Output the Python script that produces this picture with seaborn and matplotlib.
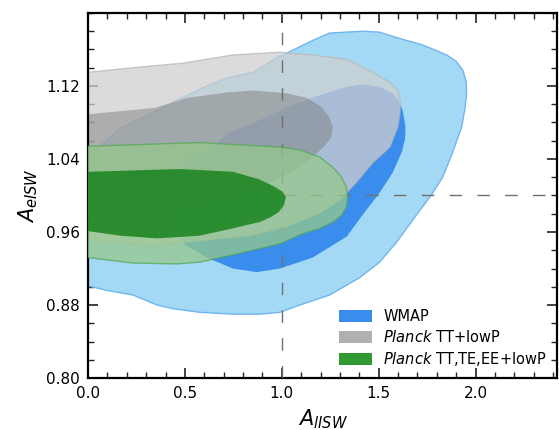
import numpy as np
import matplotlib
matplotlib.use("Agg")
import matplotlib.pyplot as plt
import seaborn as sns
from matplotlib.patches import Patch
from matplotlib.ticker import MultipleLocator

# contour outlines (A_lISW, A_eISW)
wmap_95_x = [0.0, 0.052, 0.170, 0.345, 0.464, 0.603, 0.722, 0.851, 0.974, 1.026, 1.160, 1.247,
             1.418, 1.505, 1.593, 1.727, 1.851, 1.900, 1.935, 1.952, 1.953, 1.945, 1.928, 1.881,
             1.830, 1.773, 1.696, 1.593, 1.505, 1.402, 1.247, 1.093, 0.990, 0.887, 0.747, 0.577,
             0.438, 0.356, 0.232, 0.098, 0.0]
wmap_95_y = [1.048, 1.053, 1.074, 1.092, 1.105, 1.119, 1.129, 1.135, 1.151, 1.156, 1.170, 1.178,
             1.180, 1.179, 1.173, 1.165, 1.154, 1.147, 1.137, 1.124, 1.110, 1.095, 1.075, 1.047,
             1.020, 1.001, 0.979, 0.949, 0.927, 0.910, 0.891, 0.880, 0.872, 0.870, 0.870, 0.872,
             0.876, 0.880, 0.891, 0.896, 0.901]

wmap_68_x = [0.634, 0.722, 0.851, 1.026, 1.196, 1.335, 1.418, 1.505, 1.570, 1.605, 1.625, 1.638,
             1.636, 1.620, 1.572, 1.505, 1.418, 1.335, 1.160, 0.990, 0.871, 0.747, 0.613, 0.500,
             0.438, 0.423, 0.448, 0.530]
wmap_68_y = [1.050, 1.069, 1.079, 1.097, 1.110, 1.119, 1.122, 1.119, 1.112, 1.104, 1.092, 1.075,
             1.062, 1.048, 1.025, 1.003, 0.979, 0.955, 0.932, 0.920, 0.916, 0.920, 0.932, 0.946,
             0.968, 0.995, 1.022, 1.045]

tt_95_x = [0.0, 0.232, 0.490, 0.747, 0.990, 1.160, 1.335, 1.469, 1.557, 1.598, 1.613, 1.608,
           1.598, 1.557, 1.469, 1.387, 1.299, 1.196, 1.026, 0.835, 0.680, 0.345, 0.0]
tt_95_y = [1.135, 1.140, 1.145, 1.154, 1.157, 1.154, 1.149, 1.135, 1.124, 1.116, 1.103, 1.088,
           1.075, 1.053, 1.036, 1.015, 0.995, 0.981, 0.966, 0.956, 0.953, 0.945, 0.951]

tt_68_x = [0.0, 0.345, 0.515, 0.722, 0.851, 1.026, 1.129, 1.200, 1.245, 1.263, 1.255, 1.225,
           1.160, 1.041, 0.861, 0.680, 0.423, 0.165, 0.0]
tt_68_y = [1.089, 1.096, 1.107, 1.113, 1.115, 1.112, 1.107, 1.098, 1.086, 1.075, 1.064, 1.055,
           1.042, 1.025, 1.006, 0.995, 0.984, 0.979, 0.976]

ttteee_95_x = [0.0, 0.577, 0.990, 1.093, 1.196, 1.263, 1.305, 1.332, 1.340, 1.333, 1.310, 1.273,
               1.196, 1.093, 0.990, 0.747, 0.577, 0.459, 0.232, 0.0]
ttteee_95_y = [1.054, 1.058, 1.053, 1.050, 1.042, 1.031, 1.021, 1.010, 0.998, 0.987, 0.979, 0.972,
               0.964, 0.957, 0.947, 0.935, 0.927, 0.925, 0.926, 0.932]

ttteee_68_x = [0.0, 0.474, 0.747, 0.880, 0.960, 1.005, 1.021, 1.012, 0.985, 0.940, 0.887, 0.747,
               0.577, 0.356, 0.165, 0.0]
ttteee_68_y = [1.026, 1.029, 1.026, 1.018, 1.010, 1.004, 0.998, 0.990, 0.982, 0.976, 0.971, 0.964,
               0.956, 0.953, 0.956, 0.961]

labels = ["WMAP", r"$\it{Planck}$ TT+lowP", r"$\it{Planck}$ TT,TE,EE+lowP"]

sns.set_style("ticks")
plt.rcParams['font.family'] = ['DejaVu Sans']
plt.rcParams['text.color'] = 'black'
plt.rcParams['axes.labelcolor'] = 'black'

fig = plt.figure(figsize=(5.59, 4.30), dpi=100)
ax = fig.add_axes([0.1574, 0.1209, 0.8390, 0.8489])

# WMAP
ax.fill(wmap_95_x, wmap_95_y, facecolor='#a3d9f5', edgecolor='#6fb5f0', lw=1.0, zorder=1)
ax.fill(wmap_68_x, wmap_68_y, facecolor='#3a8ded', edgecolor='none', zorder=1.1)

# Planck TT+lowP
ax.fill(tt_95_x, tt_95_y, facecolor='#cfcfcf', edgecolor='#b8b8b8', lw=1.0, alpha=0.75, zorder=2)
ax.fill(tt_68_x, tt_68_y, facecolor='#808080', edgecolor='none', alpha=0.5, zorder=2.1)

# reference lines
ax.axvline(1.0, color='#707070', lw=1.0, ls=(0, (9, 11)), zorder=3)
ax.axhline(1.0, color='#707070', lw=1.0, ls=(0, (9, 11)), zorder=3)

# Planck TT,TE,EE+lowP
ax.fill(ttteee_95_x, ttteee_95_y, facecolor='#96c88c', edgecolor='#55a855', lw=1.0, alpha=0.75, zorder=4)
ax.fill(ttteee_68_x, ttteee_68_y, facecolor='#1e8723', edgecolor='none', alpha=0.9, zorder=4.1)

ax.set_xlim(0, 2.42)
ax.set_ylim(0.80, 1.20)
ax.xaxis.set_major_locator(MultipleLocator(0.5))
ax.xaxis.set_minor_locator(MultipleLocator(0.1))
ax.set_yticks([0.80, 0.88, 0.96, 1.04, 1.12])
ax.yaxis.set_minor_locator(MultipleLocator(0.02))
ax.tick_params(which='both', direction='in', top=True, right=True, labelsize=11, pad=6,
               color='#222222', labelcolor='black')
ax.tick_params(which='major', length=7, width=1.2)
ax.tick_params(which='minor', length=4, width=1.0)
for s in ax.spines.values():
    s.set_linewidth(1.6)
    s.set_color('black')

ax.set_xlabel(r'$A_{lISW}$', fontsize=15, labelpad=4)
ax.set_ylabel(r'$A_{eISW}$', fontsize=15, labelpad=4)

handles = [Patch(facecolor='#3a8ded', edgecolor='none'),
           Patch(facecolor='#b0b0b0', edgecolor='none'),
           Patch(facecolor='#339933', edgecolor='none')]
ax.legend(handles, labels, loc='lower right', frameon=False, fontsize=10.5,
          handlelength=2.2, handleheight=0.9, handletextpad=0.8, labelspacing=0.35,
          borderaxespad=0.3)

fig.savefig('out.png', dpi=100)
